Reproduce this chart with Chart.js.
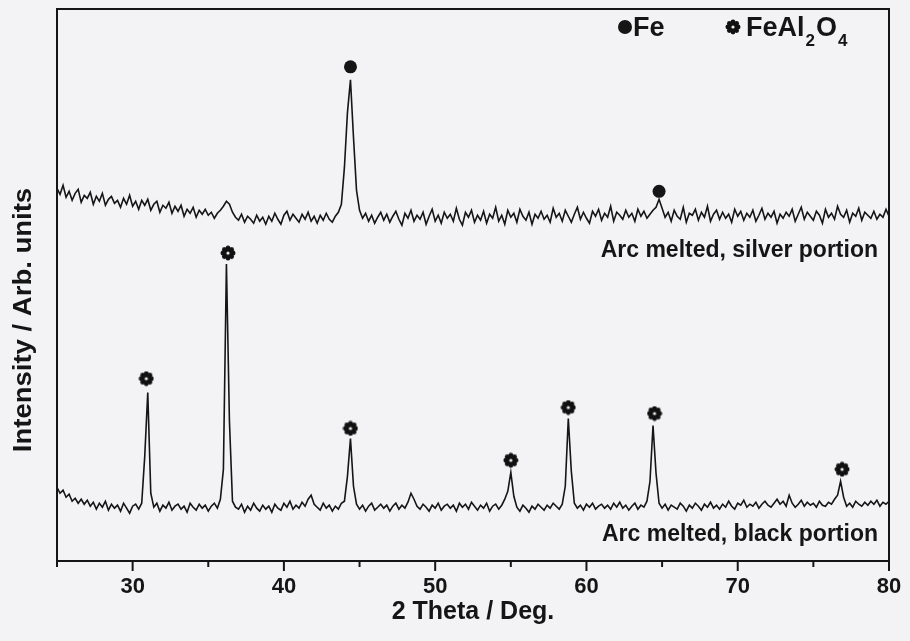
<!DOCTYPE html>
<html>
<head>
<meta charset="utf-8">
<script src="https://cdn.jsdelivr.net/npm/chart.js@4.4.1/dist/chart.umd.min.js"></script>
<style>
  html, body { margin: 0; padding: 0; background: #f3f3f5; }
  #wrap { width: 910px; height: 641px; }
</style>
</head>
<body>
<div id="wrap"><canvas id="xrd" width="910" height="641"></canvas></div>
<script>
// 2 theta grid, 0.2 deg steps from 25 to 80
var thetaStart = 25, thetaStep = 0.2;

// arc melted, silver portion (arb. units, offset trace)
var silver = [
  374, 368, 377, 365, 371, 362, 369, 373, 360, 367,
  364, 370, 358, 366, 361, 369, 357, 363, 366, 359,
  362, 355, 364, 358, 367, 356, 361, 353, 362, 357,
  363, 352, 358, 361, 350, 357, 354, 360, 349, 356,
  351, 357, 346, 353, 349, 355, 345, 352, 348, 353,
  347, 350, 344, 349, 352, 356, 361, 358, 350, 345,
  342, 348, 340, 346, 343, 339, 347, 341, 345, 338,
  346, 341, 349, 343, 338, 347, 351, 342, 348, 344,
  340, 348, 343, 350, 341, 346, 339, 347, 342, 349,
  343, 340, 346, 350, 358, 395, 450, 483, 425, 372,
  352, 344, 349, 341, 347, 339, 345, 350, 342, 348,
  340, 346, 351, 343, 337, 349, 344, 352, 341, 347,
  343, 350, 338, 346, 353, 341, 347, 339, 350, 344,
  348, 341, 354, 343, 337, 350, 345, 352, 340, 347,
  342, 351, 339, 348, 344, 355, 341, 347, 338, 352,
  345, 349, 340, 353, 346, 342, 350, 338, 348, 344,
  351, 343, 347, 340, 354, 345, 349, 341, 352, 346,
  340, 348, 355, 343, 350, 344, 339, 351, 346, 353,
  342, 349, 345, 356, 341, 350, 347, 343, 352, 345,
  349, 341, 353, 346, 351, 344, 348, 352, 355, 363,
  354, 345, 350, 341, 352, 346, 343, 355, 340, 349,
  347, 353, 342, 350, 345, 356, 341, 348, 352, 343,
  350, 344, 348, 340, 353, 346, 351, 342, 349, 345,
  352, 341, 347, 354, 343, 349, 345, 351, 339, 348,
  344, 350, 346, 353, 341, 348, 355, 343, 350, 346,
  342, 351, 347, 339, 353, 345, 349, 343, 356, 348,
  345, 352, 340, 349, 346, 354, 342, 350, 347, 344,
  351, 343, 348, 345, 353, 346
];

// arc melted, black portion
var black = [
  74, 68, 71, 64, 67, 60, 63, 58, 62, 57,
  61, 55, 59, 52, 58, 54, 60, 51, 57, 53,
  56, 50, 58, 53, 48, 55, 57, 52, 58, 105,
  169, 68, 54, 58, 50, 56, 53, 59, 51, 55,
  57, 52, 55, 49, 58, 54, 51, 57, 53, 56,
  50, 55, 58, 53, 62, 92, 298, 140, 60, 54,
  52, 57, 49, 55, 51, 58, 53, 50, 56, 52,
  55, 49, 57, 53, 51, 58, 54, 60, 52, 56,
  53, 59, 55, 62, 66, 57, 54, 51, 58, 53,
  56, 50, 55, 52, 58, 60, 85, 123, 75, 57,
  52, 56, 50, 55, 58, 51, 54, 57, 53, 56,
  50, 55, 58, 52, 56, 53, 59, 68, 62, 55,
  52, 57, 54, 50, 56, 53, 58, 51, 55, 57,
  53, 56, 50, 58, 54, 57, 52, 59, 55, 51,
  56, 53, 58, 50, 55, 57, 52, 56, 62, 70,
  89, 65, 54, 50, 56, 53, 49, 55, 52, 57,
  54, 51, 56, 53, 58, 55, 52, 57, 75, 143,
  90, 58, 53, 56, 51, 57, 54, 58, 52, 55,
  57, 53, 56, 52, 58, 54, 59, 53, 56, 51,
  55, 58, 52, 56, 54, 60, 80, 136, 88, 58,
  53, 57, 51, 56, 54, 52, 58, 55, 50, 56,
  53, 58, 55, 51, 57, 54, 59, 53, 56, 52,
  57, 54, 60, 55, 52, 58, 56, 61, 54, 57,
  55, 59, 53, 57, 60, 56, 54, 58, 62, 57,
  60, 55, 66, 58, 54, 57, 61, 55, 59, 56,
  58, 54, 60, 56, 55, 59, 57, 62, 66, 80,
  64, 55, 58, 54, 60, 57, 55, 59, 56, 60,
  57, 61, 55, 59, 57, 60
];

// peak markers
var feTheta = [44.4, 64.8];
var feY = [496, 371];
var spinelTheta = [30.9, 36.3, 44.4, 55.0, 58.8, 64.5, 76.9];
var spinelY = [183, 309, 133, 101, 154, 148, 92];

var xTicks = [25, 30, 35, 40, 45, 50, 55, 60, 65, 70, 75, 80];

function toPoints(ys) {
  var pts = [];
  for (var i = 0; i < ys.length; i++) {
    pts.push({ x: +(thetaStart + thetaStep * i).toFixed(1), y: ys[i] });
  }
  return pts;
}
function pairs(xs, ys) {
  return xs.map(function (x, i) { return { x: x, y: ys[i] }; });
}

// the FeAl2O4 symbol
function flower(size) {
  var c = document.createElement('canvas');
  c.width = c.height = size;
  var g = c.getContext('2d');
  var m = size / 2;
  g.fillStyle = '#111';
  for (var k = 0; k < 8; k++) {
    var a = k * Math.PI / 4;
    g.beginPath();
    g.arc(m + Math.cos(a) * m * 0.64, m + Math.sin(a) * m * 0.64, m * 0.3, 0, 2 * Math.PI);
    g.fill();
  }
  g.beginPath(); g.arc(m, m, m * 0.56, 0, 2 * Math.PI); g.fill();
  g.fillStyle = '#eee';
  g.beginPath(); g.arc(m, m, m * 0.2, 0, 2 * Math.PI); g.fill();
  return c;
}
var flowerImg = flower(16);

var FONT = '"Liberation Sans", Arial, sans-serif';
var INK = '#151515';

var decor = {
  id: 'decor',
  afterDraw: function (chart) {
    var ctx = chart.ctx, a = chart.chartArea, xs = chart.scales.x;
    ctx.save();
    ctx.strokeStyle = INK;
    ctx.lineWidth = 2;
    ctx.strokeRect(a.left, a.top, a.right - a.left, a.bottom - a.top);
    // bottom ticks, long at labelled values
    xTicks.forEach(function (v) {
      var px = xs.getPixelForValue(v);
      var len = v % 10 === 0 ? 10 : 6;
      ctx.beginPath();
      ctx.moveTo(px, a.bottom);
      ctx.lineTo(px, a.bottom + len);
      ctx.stroke();
    });
    ctx.fillStyle = INK;
    // y title
    ctx.save();
    ctx.translate(24, 320);
    ctx.rotate(-Math.PI / 2);
    ctx.scale(1.1, 1);
    ctx.textAlign = 'center';
    ctx.textBaseline = 'middle';
    ctx.font = 'bold 25px ' + FONT;
    ctx.fillText('Intensity / Arb. units', 0, 0);
    ctx.restore();
    // sample labels
    ctx.textAlign = 'right';
    ctx.textBaseline = 'alphabetic';
    ctx.font = 'bold 23px ' + FONT;
    ctx.fillText('Arc melted, silver portion', 878, 257);
    ctx.fillText('Arc melted, black portion', 878, 541);
    // legend
    ctx.beginPath();
    ctx.arc(625, 27, 7, 0, 2 * Math.PI);
    ctx.fill();
    ctx.textAlign = 'left';
    ctx.font = 'bold 27px ' + FONT;
    ctx.fillText('Fe', 633, 36);
    ctx.drawImage(flowerImg, 725, 19);
    var x = 746;
    ctx.fillText('FeAl', x, 36);
    x += ctx.measureText('FeAl').width;
    ctx.font = 'bold 17px ' + FONT;
    ctx.fillText('2', x + 1, 46);
    x += ctx.measureText('2').width + 2;
    ctx.font = 'bold 27px ' + FONT;
    ctx.fillText('O', x, 36);
    x += ctx.measureText('O').width;
    ctx.font = 'bold 17px ' + FONT;
    ctx.fillText('4', x + 1, 46);
    ctx.restore();
  }
};

new Chart(document.getElementById('xrd'), {
  type: 'line',
  data: {
    datasets: [
      {
        label: 'Arc melted, silver portion',
        data: toPoints(silver),
        borderColor: INK,
        borderWidth: 1.6,
        pointRadius: 0,
        tension: 0
      },
      {
        label: 'Arc melted, black portion',
        data: toPoints(black),
        borderColor: INK,
        borderWidth: 1.6,
        pointRadius: 0,
        tension: 0
      },
      {
        type: 'scatter',
        label: 'Fe',
        data: pairs(feTheta, feY),
        pointStyle: 'circle',
        pointRadius: 6.5,
        backgroundColor: INK,
        borderWidth: 0
      },
      {
        type: 'scatter',
        label: 'FeAl2O4',
        data: pairs(spinelTheta, spinelY),
        pointStyle: flowerImg,
        pointRadius: 8
      }
    ]
  },
  options: {
    responsive: false,
    animation: false,
    layout: { padding: { left: 57, right: 21, top: 7, bottom: 10 } },
    plugins: { legend: { display: false }, tooltip: { enabled: false } },
    scales: {
      x: {
        type: 'linear',
        min: 25,
        max: 80,
        border: { display: false },
        grid: { display: false, drawTicks: true, tickLength: 10 },
        ticks: {
          stepSize: 5,
          autoSkip: false,
          maxRotation: 0,
          padding: 3,
          color: INK,
          font: { family: FONT, size: 22, weight: 'bold' },
          callback: function (v) { return v % 10 === 0 ? v : ''; }
        },
        title: {
          display: true,
          text: '2 Theta / Deg.',
          color: INK,
          font: { family: FONT, size: 25, weight: 'bold' }
        },
        afterFit: function (s) { s.height = 70; }
      },
      y: {
        display: false,
        min: 0,
        max: 554
      }
    }
  },
  plugins: [decor]
});
</script>
</body>
</html>
